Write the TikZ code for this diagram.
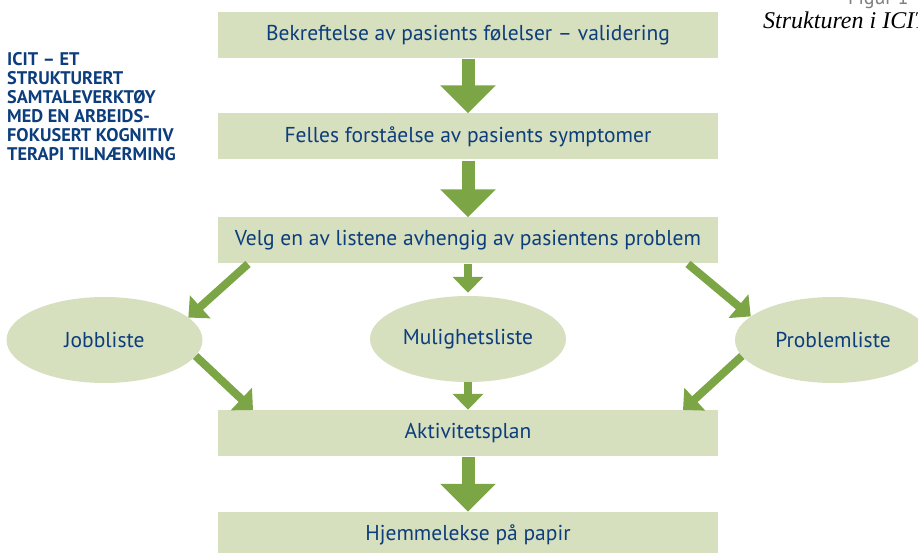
\documentclass[tikz,border=0pt]{standalone}
\usepackage{fontspec}
\setmainfont{PT Sans}
\newfontfamily\captfont{Liberation Serif}
\usetikzlibrary{positioning, shapes, arrows.meta}
\definecolor{boxgreen}{HTML}{D6DFBE}
\definecolor{arrgreen}{HTML}{7CA645}
\definecolor{txtblue}{HTML}{0C3D7C}
\tikzset{
  box/.style={fill=boxgreen, minimum width=500pt, minimum height=46pt, inner sep=0pt,
    text=txtblue, font=\fontsize{21.5}{24}\selectfont},
  ell/.style={ellipse, fill=boxgreen, minimum width=196pt, minimum height=86pt, inner sep=0pt,
    text=txtblue, font=\fontsize{21.5}{24}\selectfont},
  bigarr/.style={draw=arrgreen, line width=13pt, shorten <=1pt,
    -{Triangle[width=54pt,length=28pt]}},
  smallarr/.style={draw=arrgreen, line width=8pt,
    -{Triangle[width=30pt,length=16pt]}}}

\begin{document}
\begin{tikzpicture}[x=1pt,y=-1pt]
  \useasboundingbox (0,0) rectangle (918,553);
  % boxes
  \node[box] (valid) at (468,35) {Bekreftelse av pasients følelser – validering};
  \node[box] (felles) at (468,136.5) {Felles forståelse av pasients symptomer};
  \node[box] (velg) at (468,240.5) {Velg en av listene avhengig av pasientens problem};
  \node[box] (akt) at (468,433) {Aktivitetsplan};
  \node[box] (hjem) at (468,535) {Hjemmelekse på papir};
  % lists
  \node[ell] (job) at (104.5,340) {Jobbliste};
  \node[ell] (mul) at (468,339) {Mulighetsliste};
  \node[ell] (prob) at (833,340) {Problemliste};
  \coordinate (vl) at (248,264);
  \coordinate (vr) at (688,264);
  \coordinate (al) at (253,410);
  \coordinate (ar) at (683,410);
  % arrows
  \draw[bigarr] (valid.south) -- (felles.north);
  \draw[bigarr] (felles.south) -- (velg.north);
  \draw[bigarr] (akt.south) -- (hjem.north);
  \draw[smallarr] (velg.south) -- ([yshift=3pt]mul.north);
  \draw[smallarr] (mul.south) -- (akt.north);
  \draw[smallarr] (vl) -- (job.15);
  \draw[smallarr] (vr) -- (prob.164);
  \draw[smallarr] (job.-10) -- (al);
  \draw[smallarr] (prob.190) -- (ar);
  % side texts
  \node[anchor=north west, align=left, inner sep=0pt, text=txtblue,
    font=\bfseries\fontsize{18.3}{19}\selectfont] (titel) at (7,52)
    {ICIT – ET\\STRUKTURERT\\SAMTALEVERKTØY\\MED EN ARBEIDS-\\FOKUSERT KOGNITIV\\TERAPI TILNÆRMING};
  \node[anchor=base west, inner sep=0pt, font=\captfont\itshape\fontsize{24}{28}\selectfont]
    (cap) at (763,29) {Strukturen i ICIT};
  \node[anchor=base west, inner sep=0pt, text=gray, font=\fontsize{20}{24}\selectfont]
    (fig) at (848,5) {Figur 1};
\end{tikzpicture}
\end{document}
